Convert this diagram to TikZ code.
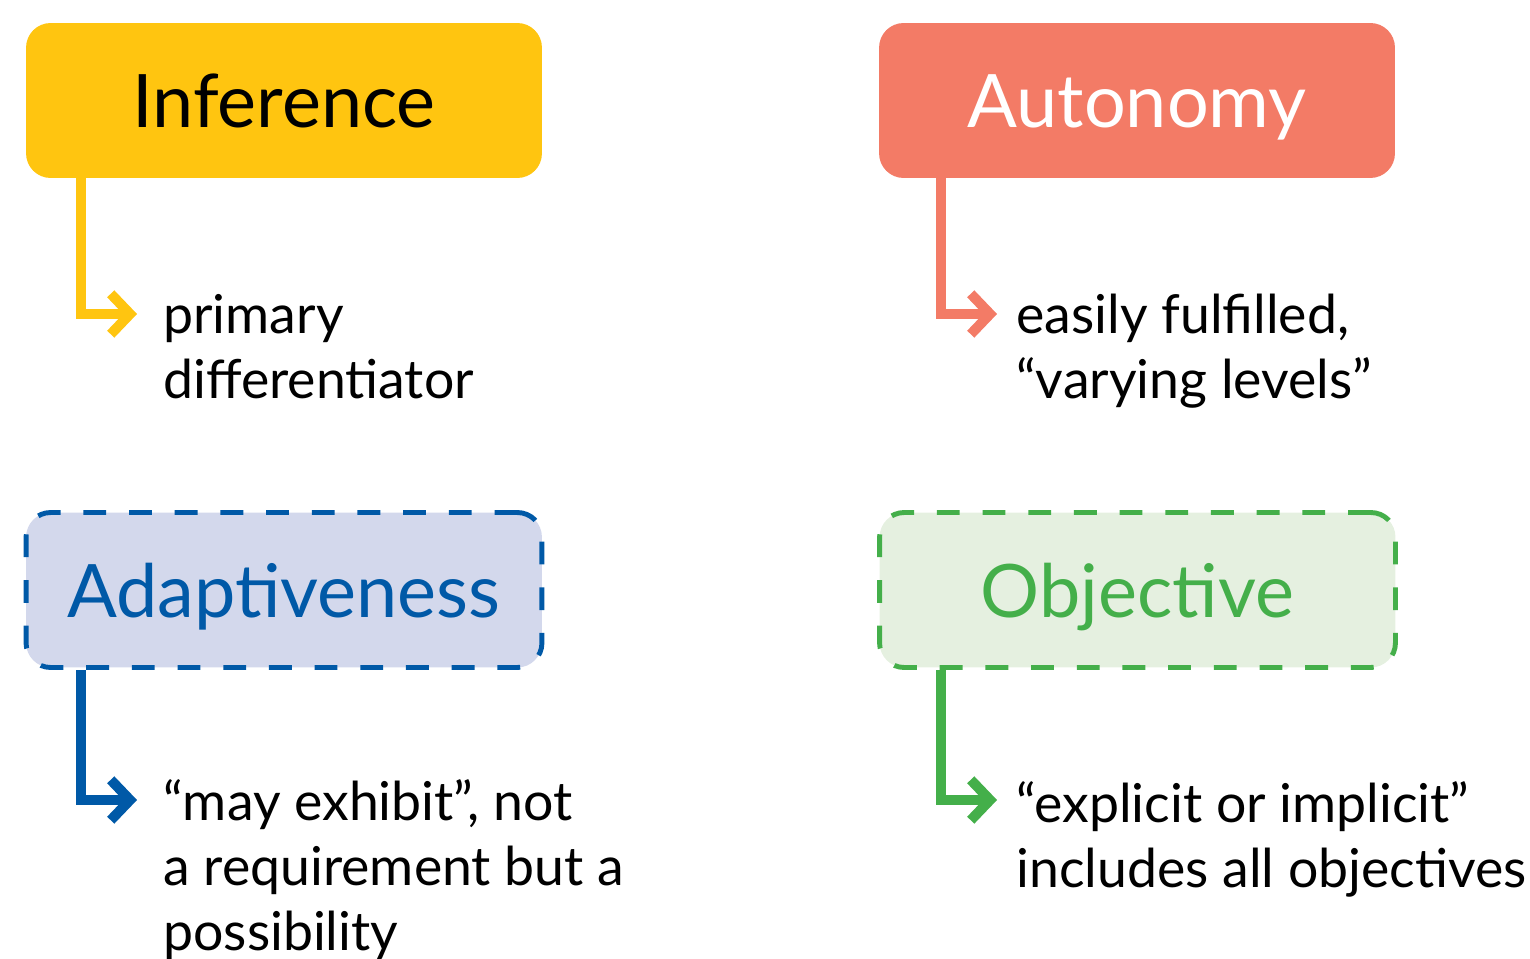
\documentclass[tikz,border=0pt]{standalone}
\usepackage{fontspec}
\setmainfont{Lato}
\usetikzlibrary{arrows.meta}

\definecolor{infcol}{HTML}{FFC510}
\definecolor{autcol}{HTML}{F37B66}
\definecolor{adpcol}{HTML}{0059A7}
\definecolor{adpfill}{HTML}{D3D8EC}
\definecolor{objcol}{HTML}{44AF4A}
\definecolor{objfill}{HTML}{E5F0E0}

\tikzset{
    head/.style={rounded corners=14pt, minimum width=10.32cm, minimum height=3.1cm,
        inner sep=0pt, text height=31.2pt, text depth=0pt,
        font=\fontsize{42}{46}\selectfont},
    dashhead/.style={head, line width=2.8pt, dash pattern=on 13pt off 13pt},
    note/.style={align=left, inner sep=0pt, font=\fontsize{30.5}{36.85}\selectfont},
    link/.style={line width=5.7pt, -{Straight Barb[length=11pt, width=23pt]}},
}

\begin{document}
\begin{tikzpicture}[x=0.02cm, y=-0.02cm]
    \useasboundingbox (0,0) rectangle (1530,959);
    %% the four terms
    \node[head, fill=infcol] (inf) at (284,100.5) {Inference};
    \node[head, fill=autcol, text=white] (aut) at (1137,100.5) {Autonomy};
    \node[dashhead, draw=adpcol, fill=adpfill, text=adpcol] (adp) at (284,590) {Adaptiveness};
    \node[dashhead, draw=objcol, fill=objfill, text=objcol] (obj) at (1137.5,590) {Objective};
    %% notes (placed at the baseline of their last line)
    \node[note, anchor=base west] (inftxt) at (163,398) {primary\\differentiator};
    \node[note, anchor=base west] (auttxt) at (1016,398) {easily fulfilled,\\“varying levels”};
    \node[note, anchor=base west] (adptxt) at (163,950) {“may exhibit”, not\\a requirement but a\\possibility};
    \node[note, anchor=base west] (objtxt) at (1016,887) {“explicit or implicit”\\includes all objectives};
    %% arrow ends
    \foreach \nm/\x/\y in {inf/137/314,aut/997/314,adp/137/800,obj/997/800}
        \coordinate (\nm tip) at (\x,\y);
    %% links
    \foreach \nm/\col in {inf/infcol,aut/autcol,adp/adpcol,obj/objcol}
        \draw[link, \col] ([xshift=-1.12cm]\nm tip |- \nm.south) |- (\nm tip);
\end{tikzpicture}
\end{document}
